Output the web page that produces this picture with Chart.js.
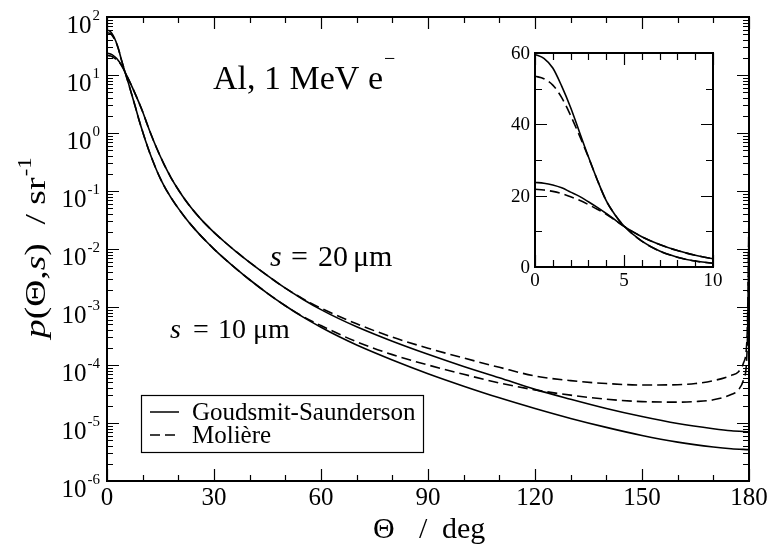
<!DOCTYPE html>
<html>
<head>
<meta charset="utf-8">
<script src="https://cdn.jsdelivr.net/npm/chart.js@4.4.1/dist/chart.umd.min.js"></script>
<style>
  html, body { margin: 0; padding: 0; background: #fff; }
  #wrap { position: relative; width: 770px; height: 546px; }
  #main { position: absolute; left: 0; top: 0; }
  #inset { position: absolute; left: 490px; top: 40px; }
</style>
</head>
<body>
<div id="wrap">
  <canvas id="main" width="770" height="546"></canvas>
  <canvas id="inset" width="240" height="260"></canvas>
</div>
<script>
// angular distributions p(theta, s) in 1/sr, Al at 1 MeV
const anglesGS = [0, 0.5, 1, 1.5, 2, 2.5, 3, 3.5, 4, 4.5, 5,
  6, 7, 8, 9, 10, 11, 12, 13, 14, 15, 16, 17, 18,
  20, 22, 24, 26, 28, 30, 33, 36, 40, 45, 50, 55, 60, 65, 70,
  80, 90, 100, 110, 120, 130, 140, 150, 160, 170, 175, 180];
const gs10um = [59.6, 58.5, 55.8, 50.7, 44.7, 37.8, 30.9, 24.4, 18.6, 14.6, 11.5,
  7.24, 4.47, 2.75, 1.66, 1.05, 0.676, 0.452, 0.313, 0.221, 0.162, 0.123, 0.0955, 0.0759,
  0.0501, 0.0343, 0.0243, 0.0177, 0.0132, 9.98e-3, 6.75e-3, 4.68e-3, 2.95e-3, 1.72e-3, 1.05e-3, 6.68e-4, 4.47e-4, 3.09e-4, 2.21e-4,
  1.22e-4, 7.08e-5, 4.32e-5, 2.72e-5, 1.78e-5, 1.20e-5, 8.41e-6, 6.10e-6, 4.68e-6, 3.85e-6, 3.59e-6, 3.47e-6];
const gs20um = [23.7, 23.5, 23.0, 22.2, 21.0, 19.8, 18.3, 16.7, 15.0, 13.2, 11.4,
  8.5, 6.3, 4.6, 3.3, 2.32, 1.57, 1.07, 0.750, 0.535, 0.389, 0.288, 0.218, 0.167,
  0.105, 0.0692, 0.0479, 0.0344, 0.0255, 0.0193, 0.0132, 9.23e-3, 5.89e-3, 3.47e-3, 2.11e-3, 1.35e-3, 9.02e-4, 6.31e-4, 4.57e-4,
  2.57e-4, 1.53e-4, 9.44e-5, 6.03e-5, 3.80e-5, 2.57e-5, 1.78e-5, 1.29e-5, 9.77e-6, 7.94e-6, 7.33e-6, 7.08e-6];

const anglesMol = [0, 0.5, 1, 1.5, 2, 2.5, 3, 3.5, 4, 4.5, 5,
  6, 7, 8, 9, 10, 11, 12, 13, 14, 15, 16, 17, 18,
  20, 22, 24, 26, 28, 30, 33, 36, 40, 45, 50, 55, 60, 70,
  80, 90, 100, 110, 120, 130, 140, 150, 160, 165, 170, 175, 177, 178.5, 179.5, 180];
const mol10um = [53.5, 52.8, 51.0, 47.5, 42.5, 36.8, 30.8, 24.4, 18.6, 14.6, 11.5,
  7.24, 4.47, 2.75, 1.66, 1.05, 0.676, 0.452, 0.313, 0.221, 0.162, 0.123, 0.0955, 0.0759,
  0.0501, 0.0343, 0.0243, 0.0177, 0.0132, 9.98e-3, 6.75e-3, 4.68e-3, 2.95e-3, 1.72e-3, 1.05e-3, 6.84e-4, 4.79e-4, 2.51e-4,
  1.51e-4, 1.00e-4, 6.92e-5, 4.90e-5, 3.72e-5, 3.02e-5, 2.57e-5, 2.34e-5, 2.29e-5, 2.34e-5, 2.51e-5, 3.09e-5, 3.72e-5, 5.62e-5, 2.0e-4, 0.0251];
const mol20um = [21.8, 21.6, 21.2, 20.6, 19.7, 18.7, 17.5, 16.2, 14.8, 13.1, 11.4,
  8.5, 6.3, 4.6, 3.3, 2.32, 1.57, 1.07, 0.750, 0.535, 0.389, 0.288, 0.218, 0.167,
  0.105, 0.0692, 0.0479, 0.0344, 0.0255, 0.0193, 0.0132, 9.23e-3, 5.89e-3, 3.47e-3, 2.11e-3, 1.38e-3, 9.55e-4, 5.13e-4,
  3.02e-4, 1.95e-4, 1.32e-4, 9.12e-5, 6.46e-5, 5.37e-5, 4.79e-5, 4.52e-5, 4.57e-5, 4.79e-5, 5.37e-5, 6.61e-5, 7.59e-5, 1.10e-4, 3.55e-4, 0.0447];

// axis ticks
const xTicks = [0, 30, 60, 90, 120, 150, 180];
const xMinorTicks = [10, 20, 40, 50, 70, 80, 100, 110, 130, 140, 160, 170];
const yDecades = [-6, -5, -4, -3, -2, -1, 0, 1, 2];
const insetXTicks = [0, 5, 10];
const insetXMinor = [1, 2, 3, 4, 6, 7, 8, 9];
const insetYTicks = [0, 20, 40, 60];
const insetYMinor = [10, 30, 50];

const SERIF = '"Liberation Serif", "Times New Roman", serif';
const SOLID = [];
const DASHED = [10, 5];

const pts = (xs, ys) => xs.map((x, i) => ({ x: x, y: ys[i] }));

function makeDatasets() {
  return [
    { label: 'Goudsmit-Saunderson', data: pts(anglesGS, gs10um), borderDash: SOLID },
    { data: pts(anglesGS, gs20um), borderDash: SOLID },
    { label: 'Molière', data: pts(anglesMol, mol10um), borderDash: DASHED },
    { data: pts(anglesMol, mol20um), borderDash: DASHED }
  ];
}

// inward ticks on all four sides plus the frame
const frameTicks = {
  id: 'frameTicks',
  afterDatasetsDraw(chart, args, o) {
    const { ctx, chartArea: a, scales: { x, y } } = chart;
    ctx.save();
    ctx.strokeStyle = '#000';
    ctx.lineWidth = 1.2;
    ctx.beginPath();
    const vTick = (v, len) => {
      const px = Math.round(x.getPixelForValue(v)) + 0.5;
      ctx.moveTo(px, a.bottom); ctx.lineTo(px, a.bottom - len);
      ctx.moveTo(px, a.top); ctx.lineTo(px, a.top + len);
    };
    const hTick = (v, len) => {
      const py = Math.round(y.getPixelForValue(v)) + 0.5;
      ctx.moveTo(a.left, py); ctx.lineTo(a.left + len, py);
      ctx.moveTo(a.right, py); ctx.lineTo(a.right - len, py);
    };
    o.xMajor.forEach(v => vTick(v, o.major));
    o.xMinor.forEach(v => vTick(v, o.minor));
    o.yMajor.forEach(v => hTick(v, o.major));
    o.yMinor.forEach(v => hTick(v, o.minor));
    ctx.stroke();
    ctx.lineWidth = 2;
    ctx.strokeRect(a.left, a.top, a.width, a.height);
    ctx.restore();
  }
};

function drawRuns(ctx, x, y, runs) {
  for (const r of runs) {
    ctx.font = r.font;
    ctx.fillText(r.t, x, y - (r.rise || 0));
    x += ctx.measureText(r.t).width + (r.gap || 0);
  }
}

const mainText = {
  id: 'mainText',
  afterDraw(chart) {
    const { ctx, scales: { x, y } } = chart;
    ctx.save();
    ctx.fillStyle = '#000';
    ctx.textBaseline = 'alphabetic';

    // x tick labels
    ctx.font = '25px ' + SERIF;
    ctx.textAlign = 'center';
    xTicks.forEach(v => ctx.fillText(String(v), x.getPixelForValue(v), 505));

    // y tick labels as 10^n
    ctx.textAlign = 'left';
    yDecades.forEach(e => {
      const py = y.getPixelForValue(Math.pow(10, e));
      ctx.font = '15px ' + SERIF;
      const sup = String(e);
      const sw = ctx.measureText(sup).width;
      ctx.fillText(sup, 100 - sw, py + 3);
      ctx.font = '25px ' + SERIF;
      const tw = ctx.measureText('10').width;
      ctx.fillText('10', 99 - sw - tw, py + 16);
    });

    // axis titles
    ctx.font = '30px ' + SERIF;
    ctx.fillText('Θ', 373, 538);
    ctx.fillText('/', 419, 538);
    ctx.fillText('deg', 442, 538);

    ctx.save();
    ctx.translate(45, 338);
    ctx.rotate(-Math.PI / 2);
    ctx.scale(1.25, 1);
    drawRuns(ctx, 0, 0, [
      { t: 'p', font: 'italic 30px ' + SERIF },
      { t: '(Θ,', font: '30px ' + SERIF },
      { t: 's', font: 'italic 30px ' + SERIF },
      { t: ')  / sr', font: '30px ' + SERIF, gap: 1 },
      { t: '-1', font: '18px ' + SERIF, rise: 14 }
    ]);
    ctx.restore();

    // annotations
    drawRuns(ctx, 213, 89, [
      { t: 'Al, 1 MeV e', font: '34px ' + SERIF, gap: 1 },
      { t: '−', font: '20px ' + SERIF, rise: 24 }
    ]);
    ctx.font = 'italic 30px ' + SERIF;
    ctx.fillText('s', 270, 266);
    ctx.font = '30px ' + SERIF;
    ctx.fillText('=', 291, 266);
    ctx.fillText('20', 318, 266);
    ctx.fillText('μm', 353, 266);

    ctx.font = 'italic 28px ' + SERIF;
    ctx.fillText('s', 170, 338);
    ctx.font = '28px ' + SERIF;
    ctx.fillText('=', 193, 338);
    ctx.fillText('10', 218, 338);
    ctx.fillText('μm', 253, 338);

    // legend
    const lx = 141, ly = 395, lw = 282, lh = 57;
    ctx.fillStyle = '#fff';
    ctx.fillRect(lx, ly, lw, lh);
    ctx.strokeStyle = '#000';
    ctx.lineWidth = 1.2;
    ctx.strokeRect(lx + 0.5, ly + 0.5, lw, lh);
    const entries = chart.data.datasets.filter(d => d.label);
    entries.forEach((d, i) => {
      const yy = 412 + i * 23;
      ctx.lineWidth = 1.5;
      ctx.setLineDash(d.borderDash);
      ctx.beginPath();
      ctx.moveTo(150, yy);
      ctx.lineTo(179, yy);
      ctx.stroke();
      ctx.setLineDash([]);
      ctx.fillStyle = '#000';
      ctx.font = '25px ' + SERIF;
      ctx.fillText(d.label, 192, yy + 8);
    });
    ctx.restore();
  }
};

const insetText = {
  id: 'insetText',
  beforeDatasetsDraw(chart) {
    const { ctx, chartArea: a } = chart;
    ctx.save();
    ctx.fillStyle = '#fff';
    ctx.fillRect(a.left, a.top, a.width, a.height);
    ctx.restore();
  },
  afterDraw(chart) {
    const { ctx, scales: { x, y } } = chart;
    ctx.save();
    ctx.fillStyle = '#000';
    ctx.font = '19px ' + SERIF;
    ctx.textBaseline = 'middle';
    ctx.textAlign = 'right';
    insetYTicks.forEach(v => ctx.fillText(String(v), 40, y.getPixelForValue(v) + 1));
    ctx.textAlign = 'center';
    insetXTicks.forEach(v => ctx.fillText(String(v), x.getPixelForValue(v), 241));
    ctx.restore();
  }
};

const lineElements = {
  point: { radius: 0 },
  line: { borderColor: '#000', borderWidth: 1.6, cubicInterpolationMode: 'monotone', fill: false }
};

const minorLog = [];
yDecades.slice(0, -1).forEach(e => {
  for (let m = 2; m <= 9; m++) minorLog.push(m * Math.pow(10, e));
});

new Chart(document.getElementById('main'), {
  type: 'line',
  data: { datasets: makeDatasets() },
  options: {
    responsive: false,
    animation: false,
    events: [],
    layout: { padding: { left: 107, right: 21, top: 17, bottom: 65 } },
    scales: {
      x: { type: 'linear', min: 0, max: 180, display: false },
      y: { type: 'logarithmic', min: 1e-6, max: 100, display: false }
    },
    elements: lineElements,
    plugins: {
      legend: { display: false },
      tooltip: { enabled: false },
      frameTicks: {
        xMajor: xTicks, xMinor: xMinorTicks,
        yMajor: yDecades.map(e => Math.pow(10, e)), yMinor: minorLog,
        major: 12, minor: 6
      }
    }
  },
  plugins: [frameTicks, mainText]
});

new Chart(document.getElementById('inset'), {
  type: 'line',
  data: { datasets: makeDatasets() },
  options: {
    responsive: false,
    animation: false,
    events: [],
    layout: { padding: { left: 45, right: 17, top: 13, bottom: 33 } },
    scales: {
      x: { type: 'linear', min: 0, max: 10, display: false },
      y: { type: 'linear', min: 0, max: 60, display: false }
    },
    elements: lineElements,
    plugins: {
      legend: { display: false },
      tooltip: { enabled: false },
      frameTicks: {
        xMajor: insetXTicks, xMinor: insetXMinor,
        yMajor: insetYTicks, yMinor: insetYMinor,
        major: 12, minor: 7
      }
    }
  },
  plugins: [insetText, frameTicks]
});
</script>
</body>
</html>
